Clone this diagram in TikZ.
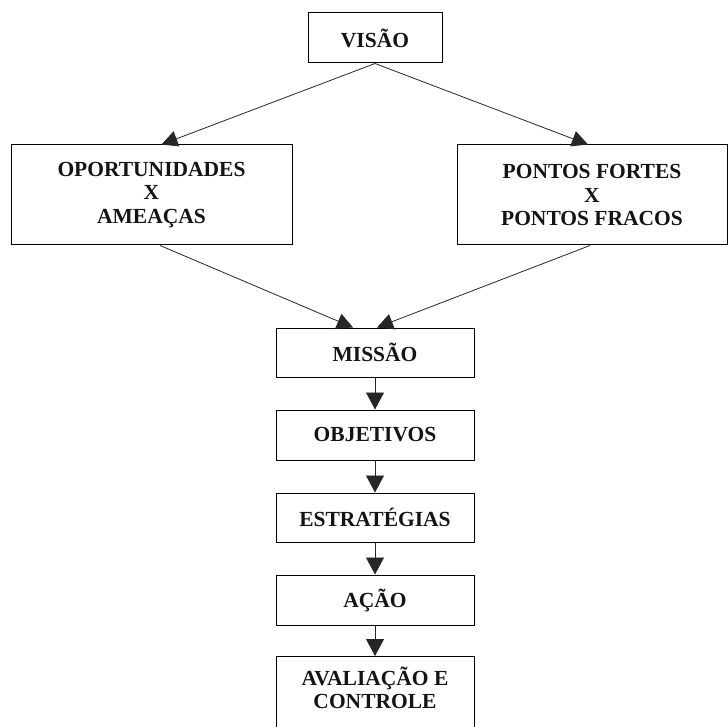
\documentclass[tikz,border=0pt]{standalone}
\usepackage{fontspec}
\setmainfont{Liberation Serif}
\usetikzlibrary{arrows.meta}
\begin{document}
\begin{tikzpicture}[x=1pt,y=-1pt,
  box/.style={draw=black, line width=1pt, inner sep=0pt, align=center,
    font=\fontsize{21.5}{23.5}\selectfont\bfseries, text=black!92},
  link/.style={draw=black!85, line width=0.8pt, -{Triangle[length=16pt,width=16pt]}},
  drop/.style={draw=black!85, line width=0.8pt, -{Triangle[length=17pt,width=18pt]}}]
\useasboundingbox (0,0) rectangle (728,727);
\clip (0,0) rectangle (728,727);

% top level
\node[box, minimum width=134pt, minimum height=50pt] (visao) at (375,38) {VISÃO};

% external and internal analysis
\node[box, minimum width=281pt, minimum height=100pt] (oport) at (151.5,195)
  {OPORTUNIDADES\\X\\AMEAÇAS};
\node[box, minimum width=270pt, minimum height=100pt] (fortes) at (592,195)
  {PONTOS FORTES\\X\\PONTOS FRACOS};

% vertical chain
\node[box, minimum width=198pt, minimum height=49pt] (missao) at (375,352.5) {MISSÃO};
\node[box, minimum width=198pt, minimum height=50pt] (objetivos) at (375,435) {OBJETIVOS};
\node[box, minimum width=198pt, minimum height=49pt] (estrategias) at (375,517.5) {ESTRATÉGIAS};
\node[box, minimum width=198pt, minimum height=50pt] (acao) at (375,600) {AÇÃO};
\node[box, minimum width=198pt, minimum height=114pt, anchor=north] (avalbox) at (375,656) {};
\node[box, draw=none] (aval) at (375,688) {AVALIAÇÃO E\\CONTROLE};

% connectors
\draw[link] (visao.south) -- ([xshift=10pt]oport.north);
\draw[link] (visao.south) -- ([xshift=-4pt]fortes.north);
\draw[link] ([xshift=8.5pt]oport.south) -- ([xshift=-22pt]missao.north);
\draw[link] ([xshift=-2pt]fortes.south) -- ([xshift=2pt]missao.north);
\draw[drop] (missao) -- (objetivos);
\draw[drop] (objetivos) -- (estrategias);
\draw[drop] (estrategias) -- (acao);
\draw[drop] (acao) -- (avalbox);
\end{tikzpicture}
\end{document}
